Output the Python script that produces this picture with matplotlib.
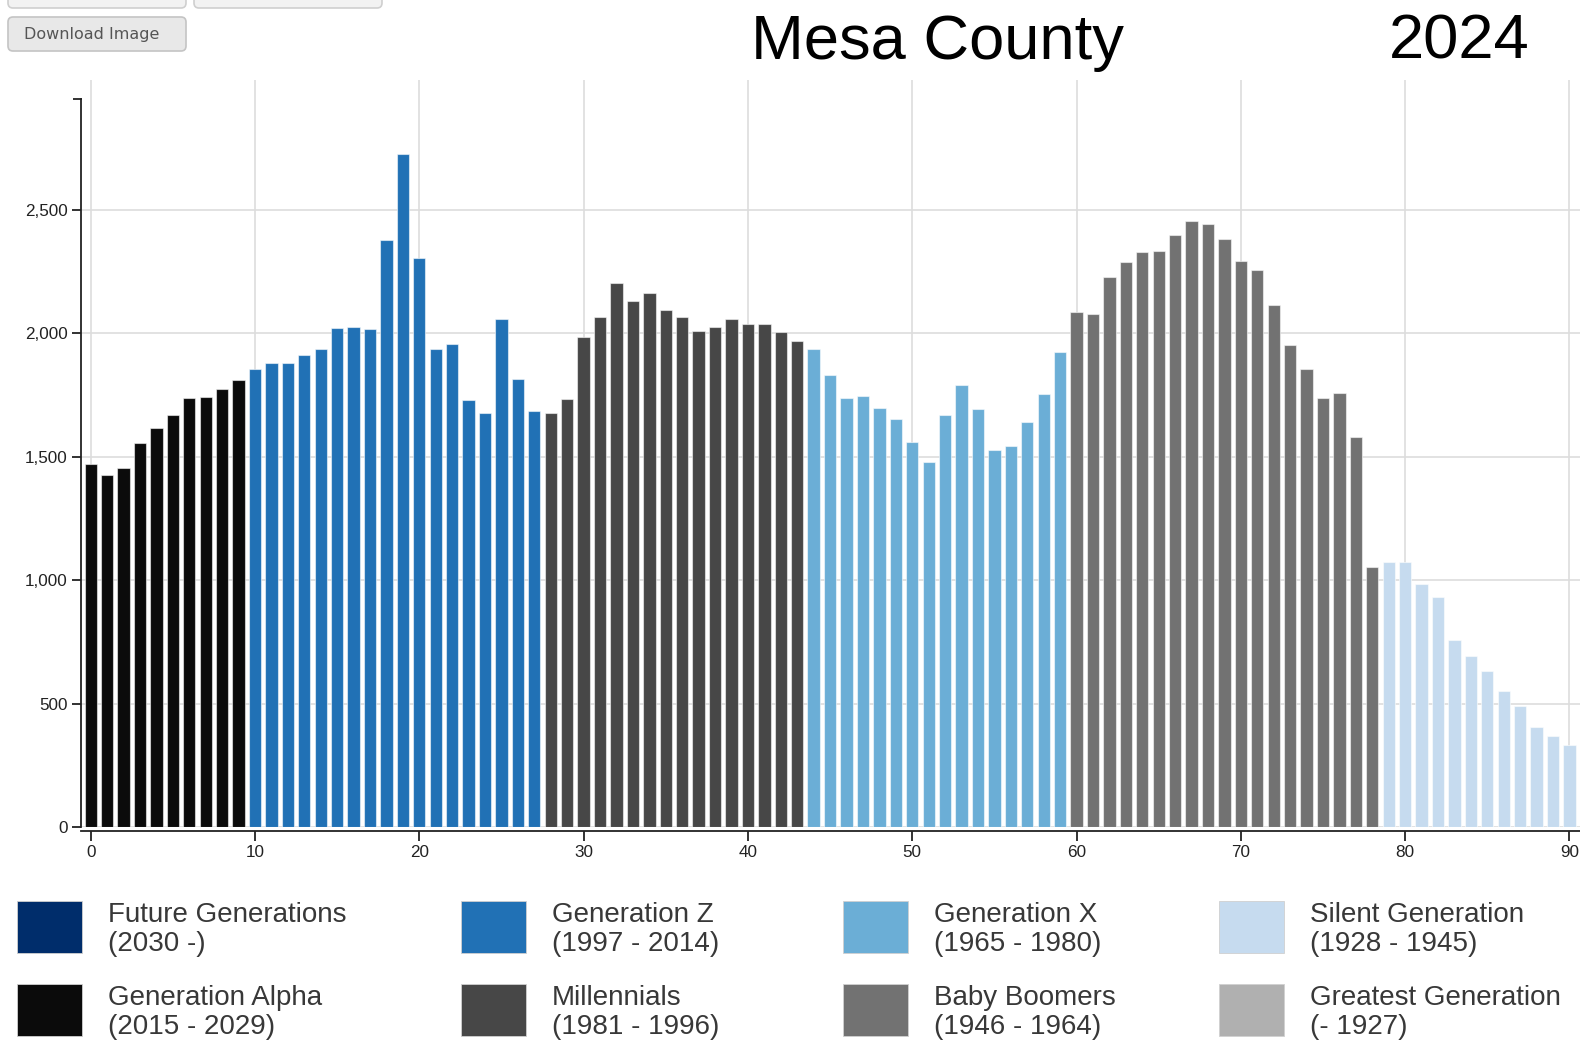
import numpy as np
import matplotlib
matplotlib.use("Agg")
import matplotlib.pyplot as plt
from matplotlib.patches import FancyBboxPatch, Rectangle

plt.rcParams['font.family'] = ['Liberation Sans', 'DejaVu Sans']

county = "Mesa County"
year = 2024

# population by single year of age (0 .. 91, the chart is cut off at the right)
ages = list(range(0, 92))
population = [
    1470, 1425, 1455, 1555, 1615, 1668, 1738, 1743, 1774, 1811,
    1855, 1881, 1878, 1912, 1935, 2020, 2024, 2017, 2378, 2726,
    2304, 1935, 1958, 1730, 1679, 2058, 1816, 1687, 1679, 1733,
    1986, 2067, 2205, 2132, 2163, 2094, 2066, 2009, 2027, 2059,
    2036, 2036, 2004, 1970, 1938, 1832, 1739, 1747, 1698, 1653,
    1559, 1478, 1669, 1792, 1694, 1527, 1543, 1641, 1755, 1923,
    2085, 2078, 2229, 2287, 2328, 2334, 2398, 2455, 2443, 2381,
    2293, 2256, 2115, 1951, 1854, 1737, 1757, 1581, 1055, 1075,
    1075, 985, 934, 758, 695, 634, 553, 491, 407, 370,
    333, 300,
]

# generations: name, label years, first birth year, colour
gen_names = ["Future Generations", "Generation Alpha", "Generation Z", "Millennials",
             "Generation X", "Baby Boomers", "Silent Generation", "Greatest Generation"]
gen_years = ["(2030 -)", "(2015 - 2029)", "(1997 - 2014)", "(1981 - 1996)",
             "(1965 - 1980)", "(1946 - 1964)", "(1928 - 1945)", "(- 1927)"]
gen_first = [2030, 2015, 1997, 1981, 1965, 1946, 1928, 0]
gen_colors = ["#002d6b", "#0b0b0b", "#2171b5", "#474747",
              "#6baed6", "#727272", "#c6dbef", "#b0b0b0"]


def gen_color(age):
    born = year - age
    for first, c in zip(gen_first, gen_colors):
        if born >= first:
            return c
    return gen_colors[-1]


bar_colors = [gen_color(a) for a in ages]

W, H = 1580, 1041
fig = plt.figure(figsize=(W / 100, H / 100), dpi=100)

# main chart axes (pixel placement)
ax_l, ax_r, ax_t, ax_b = 81, 1580, 80, 827.3
ax = fig.add_axes([ax_l / W, (H - ax_b) / H, (ax_r - ax_l) / W, (ax_b - ax_t) / H])

ax.bar(ages, population, width=0.75, color=bar_colors,
       edgecolor=(1, 1, 1, 0.55), linewidth=0.8, zorder=2)

ax.set_xlim(-0.59, 90.64)
ax.set_ylim(0, 3025)
ax.set_xticks(range(0, 91, 10))
ax.set_yticks(range(0, 2501, 500))
ax.yaxis.set_major_formatter(matplotlib.ticker.FuncFormatter(lambda v, p: f"{int(v):,}"))
ax.grid(True, color="#dddddd", linewidth=1.2, zorder=0)
ax.set_axisbelow(True)

for s in ("top", "right"):
    ax.spines[s].set_visible(False)
ax.spines["left"].set_bounds(0, 2947)
ax.spines["bottom"].set_position(("outward", 2.5))
for s in ("left", "bottom"):
    ax.spines[s].set_color("#222222")
    ax.spines[s].set_linewidth(1.3)

ax.tick_params(axis="both", colors="#222222", labelsize=12.3, width=1.3)
ax.tick_params(axis="y", length=6.5, pad=3)
ax.tick_params(axis="x", length=7, pad=3)
for lab in ax.get_xticklabels() + ax.get_yticklabels():
    lab.set_color("#222222")

# overlay in pixel coordinates for the page elements
ov = fig.add_axes([0, 0, 1, 1])
ov.set_xlim(0, W)
ov.set_ylim(H, 0)
ov.set_axis_off()
ov.patch.set_visible(False)

# outer tick at top of y axis
ov.plot([72.7, 82.2], [99.3, 99.3], color="#222222", lw=1.3, solid_capstyle="butt")

# page buttons
for x0, x1 in [(8, 186), (194, 382)]:
    ov.add_patch(FancyBboxPatch((x0, -30), x1 - x0, 38,
                                boxstyle="round,pad=0,rounding_size=5",
                                facecolor="#f2f2f2", edgecolor="#cfcfcf", lw=1.2))
ov.add_patch(FancyBboxPatch((8, 17), 178, 34, boxstyle="round,pad=0,rounding_size=5",
                            facecolor="#e8e8e8", edgecolor="#c4c4c4", lw=1.2))
ov.text(92, 35, "Download Image", ha="center", va="center", fontsize=11.5,
        family="DejaVu Sans", color="#555555")

# titles
ov.text(751, 58.5, county, ha="left", va="baseline", fontsize=45.5, color="black")
ov.text(1389, 58.5, str(year), ha="left", va="baseline", fontsize=45.5, color="black")

# legend: 4 columns x 2 rows
col_swatch = [16.7, 460.5, 843.3, 1218.5]
col_text = [108.3, 551.5, 934.0, 1310.5]
row_top = [900.7, 984.0]
order = [0, 2, 4, 6, 1, 3, 5, 7]
for k, gi in enumerate(order):
    r, c = k // 4, k % 4
    ov.add_patch(Rectangle((col_swatch[c], row_top[r]), 65, 52,
                           facecolor=gen_colors[gi], edgecolor="#d0d0d0", lw=0.6))
    ov.text(col_text[c], row_top[r] + 21, gen_names[gi], ha="left", va="baseline",
            fontsize=20, color="#383838")
    ov.text(col_text[c], row_top[r] + 50.5, gen_years[gi], ha="left", va="baseline",
            fontsize=20, color="#383838")

fig.savefig("out.png", dpi=100, facecolor="white")
